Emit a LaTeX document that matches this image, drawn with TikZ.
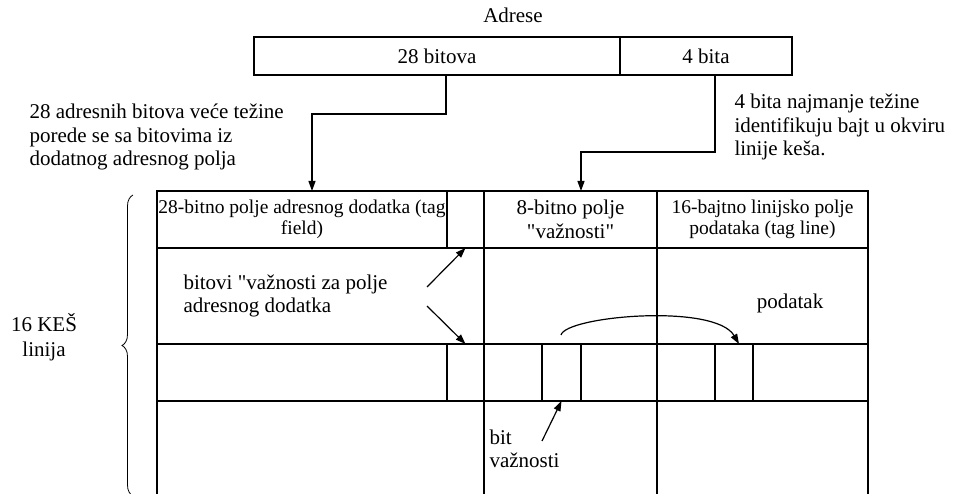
\documentclass[tikz,border=0pt]{standalone}
\usepackage{fontspec}
\setmainfont{Liberation Serif}
\usetikzlibrary{arrows.meta,decorations.pathreplacing}

\begin{document}
\begin{tikzpicture}[x=1pt,y=-1pt,
  grid/.style={line width=1.5pt},
  cell/.style={draw, rectangle, grid, inner sep=0pt, outer sep=0pt,
               anchor=north west, align=center},
  big/.style={font=\fontsize{21}{23.5}\selectfont},
  small/.style={font=\fontsize{19.5}{21}\selectfont},
  arr/.style={line width=1.2pt, -{Triangle[length=10pt,width=7pt]}},
  bracestyle/.style={line width=0.8pt, decorate,
                     decoration={brace, amplitude=11pt}}]
\useasboundingbox (0,0) rectangle (953,494);

% address word
\node[big] (adr) at (513,15) {Adrese};
\node[cell, big, minimum width=366pt, minimum height=38pt] (hi) at (254,37) {28 bitova};
\node[cell, big, minimum width=172pt, minimum height=38pt] (lo) at (620,37) {4 bita};

% header row of the cache line
\node[cell, small, minimum width=290pt, minimum height=57pt] (tagh) at (157,191)
  {28-bitno polje adresnog dodatka (tag\\field)};
\node[cell, minimum width=37pt, minimum height=57pt] (tv1) at (447,191) {};
\node[cell, big, minimum width=173pt, minimum height=57pt] (vh) at (484,191)
  {8-bitno polje\\\textquotedbl važnosti\textquotedbl};
\node[cell, small, minimum width=211pt, minimum height=57pt] (dh) at (657,191)
  {16-bajtno linijsko polje\\podataka (tag line)};

% second row
\node[cell, minimum width=327pt, minimum height=96pt] (r2a) at (157,248) {};
\node[cell, minimum width=173pt, minimum height=96pt] (r2b) at (484,248) {};
\node[cell, minimum width=211pt, minimum height=96pt] (r2c) at (657,248) {};

% third row with single bit / byte cells
\node[cell, minimum width=290pt, minimum height=57pt] (r3a) at (157,344) {};
\node[cell, minimum width=37pt, minimum height=57pt] (tv2) at (447,344) {};
\node[cell, minimum width=58pt, minimum height=57pt] (r3b) at (484,344) {};
\node[cell, minimum width=39pt, minimum height=57pt] (vb) at (542,344) {};
\node[cell, minimum width=76pt, minimum height=57pt] (r3c) at (581,344) {};
\node[cell, minimum width=58pt, minimum height=57pt] (r3d) at (657,344) {};
\node[cell, minimum width=38pt, minimum height=57pt] (db) at (715,344) {};
\node[cell, minimum width=115pt, minimum height=57pt] (r3e) at (753,344) {};

% open bottom row
\draw[grid] (157,401) -- (157,494);
\draw[grid] (484,401) -- (484,494);
\draw[grid] (657,401) -- (657,494);
\draw[grid] (868,401) -- (868,494);

% explanatory texts
\node[big, anchor=west, align=left] (hitxt) at (26,137)
  {28 adresnih bitova veće težine\\porede se sa bitovima iz\\dodatnog adresnog polja};
\node[big, anchor=west, align=left] (lotxt) at (731,127)
  {4 bita najmanje težine\\identifikuju bajt u okviru\\linije keša.};
\node[big, anchor=west, align=left] (bv) at (180,296)
  {bitovi \textquotedbl važnosti za polje\\adresnog dodatka};
\node[big, anchor=west, align=left] (bitv) at (486,449) {bit\\važnosti};
\node[big] (pod) at (790,303) {podatak};
\node[font=\fontsize{21}{25}\selectfont, align=center] (kes) at (44,337) {16 KEŠ\\linija};

% connectors from the address word
\draw[arr] ([xshift=9pt]hi.south) -- ++(0,39) -| ([xshift=10pt]tagh.north);
\draw[arr] ([xshift=9pt]lo.south) -- ++(0,77) -| ([xshift=10.5pt]vh.north);

% pointers to the valid bits
\coordinate (bvA) at (427,287);
\coordinate (bvB) at (427,306);
\draw[arr] (bvA) -- (tv1.south);
\draw[arr] (bvB) -- (tv2.north);
\coordinate (bitA) at (542,441);
\draw[arr] (bitA) -- (vb.south);
\coordinate (cs) at (561,335);
\draw[arr] (cs) .. controls (566,316) and (715,303) .. ([xshift=5pt]db.north);

% brace grouping the cache lines
\draw[bracestyle] (133,496) -- (133,195);
\end{tikzpicture}
\end{document}
